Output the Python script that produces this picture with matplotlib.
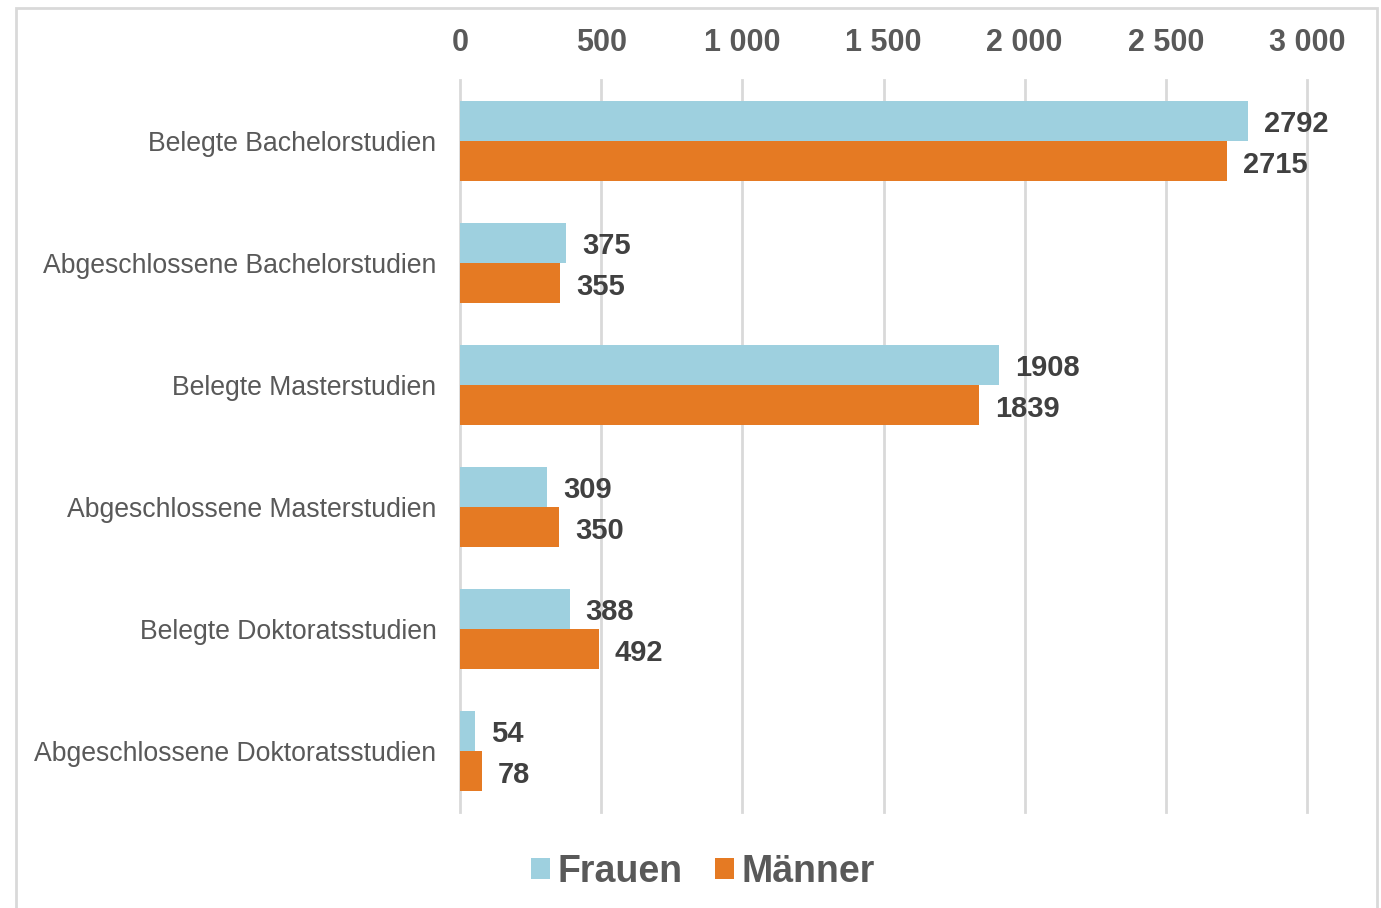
import matplotlib
matplotlib.use("Agg")
import matplotlib.pyplot as plt
from matplotlib.patches import Rectangle
from matplotlib.ticker import FuncFormatter
import numpy as np

plt.rcParams['font.family'] = ['Liberation Sans', 'DejaVu Sans']

categories = ["Belegte Bachelorstudien", "Abgeschlossene Bachelorstudien",
              "Belegte Masterstudien", "Abgeschlossene Masterstudien",
              "Belegte Doktoratsstudien", "Abgeschlossene Doktoratsstudien"]
frauen = [2792, 375, 1908, 309, 388, 54]
maenner = [2715, 355, 1839, 350, 492, 78]
xticks = [0, 500, 1000, 1500, 2000, 2500, 3000]

c_f = "#9ED0DF"
c_m = "#E57A23"

W, H = 1381, 908
fig = plt.figure(figsize=(W / 100, H / 100), dpi=100)
ax = fig.add_axes([460 / W, 1 - 812 / H, (1307 - 460) / W, (812 - 80) / H])

y = np.arange(len(categories))
h = 0.33
bf = ax.barh(y - h / 2, frauen, height=h, color=c_f, label="Frauen", zorder=2)
bm = ax.barh(y + h / 2, maenner, height=h, color=c_m, label="Männer", zorder=2)

for bars, vals in ((bf, frauen), (bm, maenner)):
    for b, v in zip(bars, vals):
        ax.annotate(str(v), (b.get_width(), b.get_y() + b.get_height() / 2),
                    xytext=(11.5, -2.5), textcoords="offset points",
                    ha="left", va="center", fontsize=21, fontweight="bold",
                    color="#404040")

ax.set_xlim(0, 3000)
ax.set_ylim(len(categories) - 0.5, -0.5)
ax.set_xticks(xticks)
ax.xaxis.set_major_formatter(FuncFormatter(lambda v, p: f"{int(v):,}".replace(",", " ")))
ax.xaxis.tick_top()
ax.tick_params(axis="x", length=0, pad=16, labelsize=22, labelcolor="#595959")
for lab in ax.get_xticklabels():
    lab.set_fontweight("bold")
ax.set_yticks(y)
ax.set_yticklabels(categories)
ax.tick_params(axis="y", length=0, pad=17, labelsize=19.2, labelcolor="#595959")

ax.grid(axis="x", color="#D9D9D9", linewidth=2, zorder=0)
for gl in ax.get_xgridlines():
    gl.set_clip_on(False)
for s in ax.spines.values():
    s.set_visible(False)

fig.legend(handles=[bf, bm], loc="center", bbox_to_anchor=(703 / W, 1 - 872 / H),
           ncol=2, frameon=False, handlelength=0.5, handleheight=0.5,
           handletextpad=0.22, columnspacing=0.85, labelcolor="#595959",
           prop={"weight": "bold", "size": 27})

fig.patches.append(Rectangle((16 / W, -0.05), (1377 - 16) / W, 1.05 - 8 / H,
                             transform=fig.transFigure, fill=False,
                             edgecolor="#D9D9D9", linewidth=2))

fig.savefig("out.png", dpi=100)
